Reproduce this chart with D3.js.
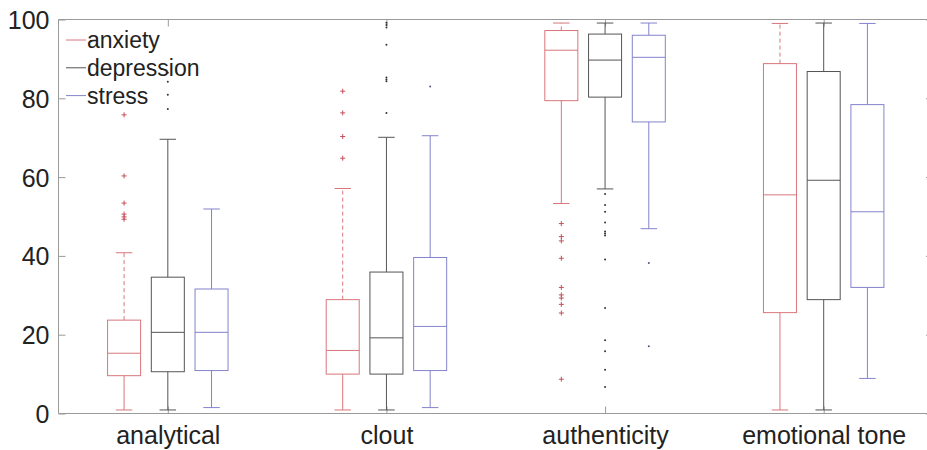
<!DOCTYPE html>
<html>
<head>
<meta charset="utf-8">
<script src="https://cdn.jsdelivr.net/npm/d3@7"></script>
<style>
  html, body { margin: 0; padding: 0; background: #fff; }
  svg { display: block; font-family: "Liberation Sans", Arial, Helvetica, sans-serif; }
</style>
</head>
<body>
<svg id="chart" width="927" height="450"></svg>
<script>
// Linguistic dimensions (LIWC summary variables) per group
const categories = ["analytical", "clout", "authenticity", "emotional tone"];
const seriesNames = ["anxiety", "depression", "stress"];
const yTicks = [0, 20, 40, 60, 80, 100];

// Five-number summaries per category: [lower whisker, Q1, median, Q3, upper whisker]
const anxietyBoxes = [
  [0.9, 9.6, 15.3, 23.7, 40.8],
  [0.9, 10.0, 16.0, 28.9, 57.1],
  [53.3, 79.4, 92.2, 97.2, 99.1],
  [0.9, 25.6, 55.5, 88.8, 99.0]
];
const depressionBoxes = [
  [0.9, 10.6, 20.6, 34.6, 69.6],
  [0.9, 10.0, 19.2, 35.9, 70.1],
  [57.0, 80.3, 89.7, 96.3, 99.1],
  [0.9, 28.9, 59.2, 86.8, 99.1]
];
const stressBoxes = [
  [1.5, 10.9, 20.6, 31.6, 51.9],
  [1.5, 10.9, 22.1, 39.6, 70.5],
  [46.9, 74.0, 90.4, 96.0, 99.1],
  [8.9, 32.0, 51.2, 78.4, 99.0]
];

// Outliers per category
const anxietyOutliers = [
  [49.3, 49.9, 50.6, 53.4, 60.3, 75.8],
  [64.8, 70.3, 76.3, 81.8],
  [48.2, 44.9, 43.8, 39.4, 32.0, 30.1, 29.3, 27.7, 25.5, 8.7],
  []
];
const depressionOutliers = [
  [77.3, 80.9, 84.2, 86.5],
  [76.3, 84.3, 84.8, 85.3, 93.6, 98.0, 98.6, 99.2],
  [55.7, 52.9, 51.2, 48.5, 46.2, 45.7, 45.2, 39.1, 26.8, 18.6, 15.8, 11.1, 6.7],
  []
];
const stressOutliers = [
  [],
  [83.0],
  [38.2, 17.1],
  []
];

const boxSets = [anxietyBoxes, depressionBoxes, stressBoxes];
const outlierSets = [anxietyOutliers, depressionOutliers, stressOutliers];
const lineColors = ["#d8767c", "#555555", "#8383cc"];
const markColors = ["#c4505a", "#333333", "#555577"];
const offsets = [-0.2, 0, 0.2];
const boxWidth = 0.151;

const svg = d3.select("#chart");
const margin = { left: 58.5, top: 19.5, bottom: 413.5 };

// Category positions 1..4, axis spans 0.5..4.5
const x = d3.scaleLinear().domain([0.5, 4.5]).range([margin.left, 933]);
const y = d3.scaleLinear().domain([0, 100]).range([margin.bottom, margin.top]);

const axisColor = "#9a9a9a";
const textColor = "#222";
const axisFont = "25px";

// Frame
const frame = svg.append("g");
frame.append("line").attr("x1", x(0.5)).attr("x2", x(4.5)).attr("y1", y(0)).attr("y2", y(0)).attr("stroke", axisColor);
frame.append("line").attr("x1", x(0.5)).attr("x2", x(4.5)).attr("y1", y(100)).attr("y2", y(100)).attr("stroke", axisColor);
frame.append("line").attr("x1", x(0.5)).attr("x2", x(0.5)).attr("y1", y(0)).attr("y2", y(100)).attr("stroke", axisColor);
frame.append("line").attr("x1", x(4.5)).attr("x2", x(4.5)).attr("y1", y(0)).attr("y2", y(100)).attr("stroke", axisColor);

// Left y axis (inward ticks)
const yAxis = d3.axisLeft(y).tickValues(yTicks).tickSize(-7).tickPadding(9).tickFormat(d3.format("d"));
const gy = svg.append("g").attr("transform", `translate(${x(0.5)},0)`).call(yAxis);
gy.select(".domain").remove();
gy.selectAll(".tick line").attr("stroke", axisColor);
gy.selectAll(".tick text").attr("fill", textColor).style("font-size", axisFont)
  .attr("dy", "0.36em");

// Right y axis (inward ticks, no labels)
const yAxisR = d3.axisRight(y).tickValues(yTicks).tickSize(-7).tickFormat("");
const gyr = svg.append("g").attr("transform", `translate(${x(4.5)},0)`).call(yAxisR);
gyr.select(".domain").remove();
gyr.selectAll(".tick line").attr("stroke", axisColor);

// Bottom x axis (inward ticks at category centers) with labels
const catPos = categories.map((c, i) => i + 1);
const xAxis = d3.axisBottom(x).tickValues(catPos).tickSize(-7)
  .tickFormat((d, i) => categories[i]);
const gx = svg.append("g").attr("transform", `translate(0,${y(0)})`).call(xAxis);
gx.select(".domain").remove();
gx.selectAll(".tick line").attr("stroke", axisColor);
gx.selectAll(".tick text").attr("fill", textColor).style("font-size", axisFont)
  .attr("y", 30).attr("dy", "0");

// Top ticks
const xAxisT = d3.axisTop(x).tickValues(catPos).tickSize(-7).tickFormat("");
const gxt = svg.append("g").attr("transform", `translate(0,${y(100)})`).call(xAxisT);
gxt.select(".domain").remove();
gxt.selectAll(".tick line").attr("stroke", axisColor);

// Boxes
const plot = svg.append("g");
seriesNames.forEach((name, s) => {
  const g = plot.append("g").attr("class", "series-" + name);
  const col = lineColors[s];
  boxSets[s].forEach((st, c) => {
    const [lo, q1, med, q3, hi] = st;
    const cx = c + 1 + offsets[s];
    const xl = x(cx - boxWidth / 2), xr = x(cx + boxWidth / 2), xc = x(cx);
    const capL = x(cx - boxWidth / 4), capR = x(cx + boxWidth / 4);
    // upper whisker
    g.append("line").attr("x1", xc).attr("x2", xc).attr("y1", y(q3)).attr("y2", y(hi))
      .attr("stroke", col).attr("stroke-dasharray", s === 0 ? "4,3" : null);
    // lower whisker
    g.append("line").attr("x1", xc).attr("x2", xc).attr("y1", y(q1)).attr("y2", y(lo))
      .attr("stroke", col);
    // caps
    g.append("line").attr("x1", capL).attr("x2", capR).attr("y1", y(hi)).attr("y2", y(hi)).attr("stroke", col);
    g.append("line").attr("x1", capL).attr("x2", capR).attr("y1", y(lo)).attr("y2", y(lo)).attr("stroke", col);
    // box
    g.append("rect").attr("x", xl).attr("y", y(q3)).attr("width", xr - xl).attr("height", y(q1) - y(q3))
      .attr("fill", "none").attr("stroke", col);
    // median
    g.append("line").attr("x1", xl).attr("x2", xr).attr("y1", y(med)).attr("y2", y(med)).attr("stroke", col);
    // outliers
    outlierSets[s][c].forEach(v => {
      if (s === 0) {
        g.append("path")
          .attr("d", `M${xc - 2.5},${y(v)}H${xc + 2.5}M${xc},${y(v) - 2.5}V${y(v) + 2.5}`)
          .attr("stroke", markColors[s]).attr("stroke-width", 1);
      } else {
        g.append("circle").attr("cx", xc).attr("cy", y(v)).attr("r", 1)
          .attr("fill", markColors[s]);
      }
    });
  });
});

// Legend
const legend = svg.append("g");
seriesNames.forEach((name, i) => {
  const ly = 40 + i * 27.8;
  legend.append("line").attr("x1", 66).attr("x2", 86).attr("y1", ly).attr("y2", ly)
    .attr("stroke", lineColors[i]);
  legend.append("text").attr("x", 87).attr("y", ly + 8).attr("fill", textColor)
    .style("font-size", "23px").text(name);
});
</script>
</body>
</html>
